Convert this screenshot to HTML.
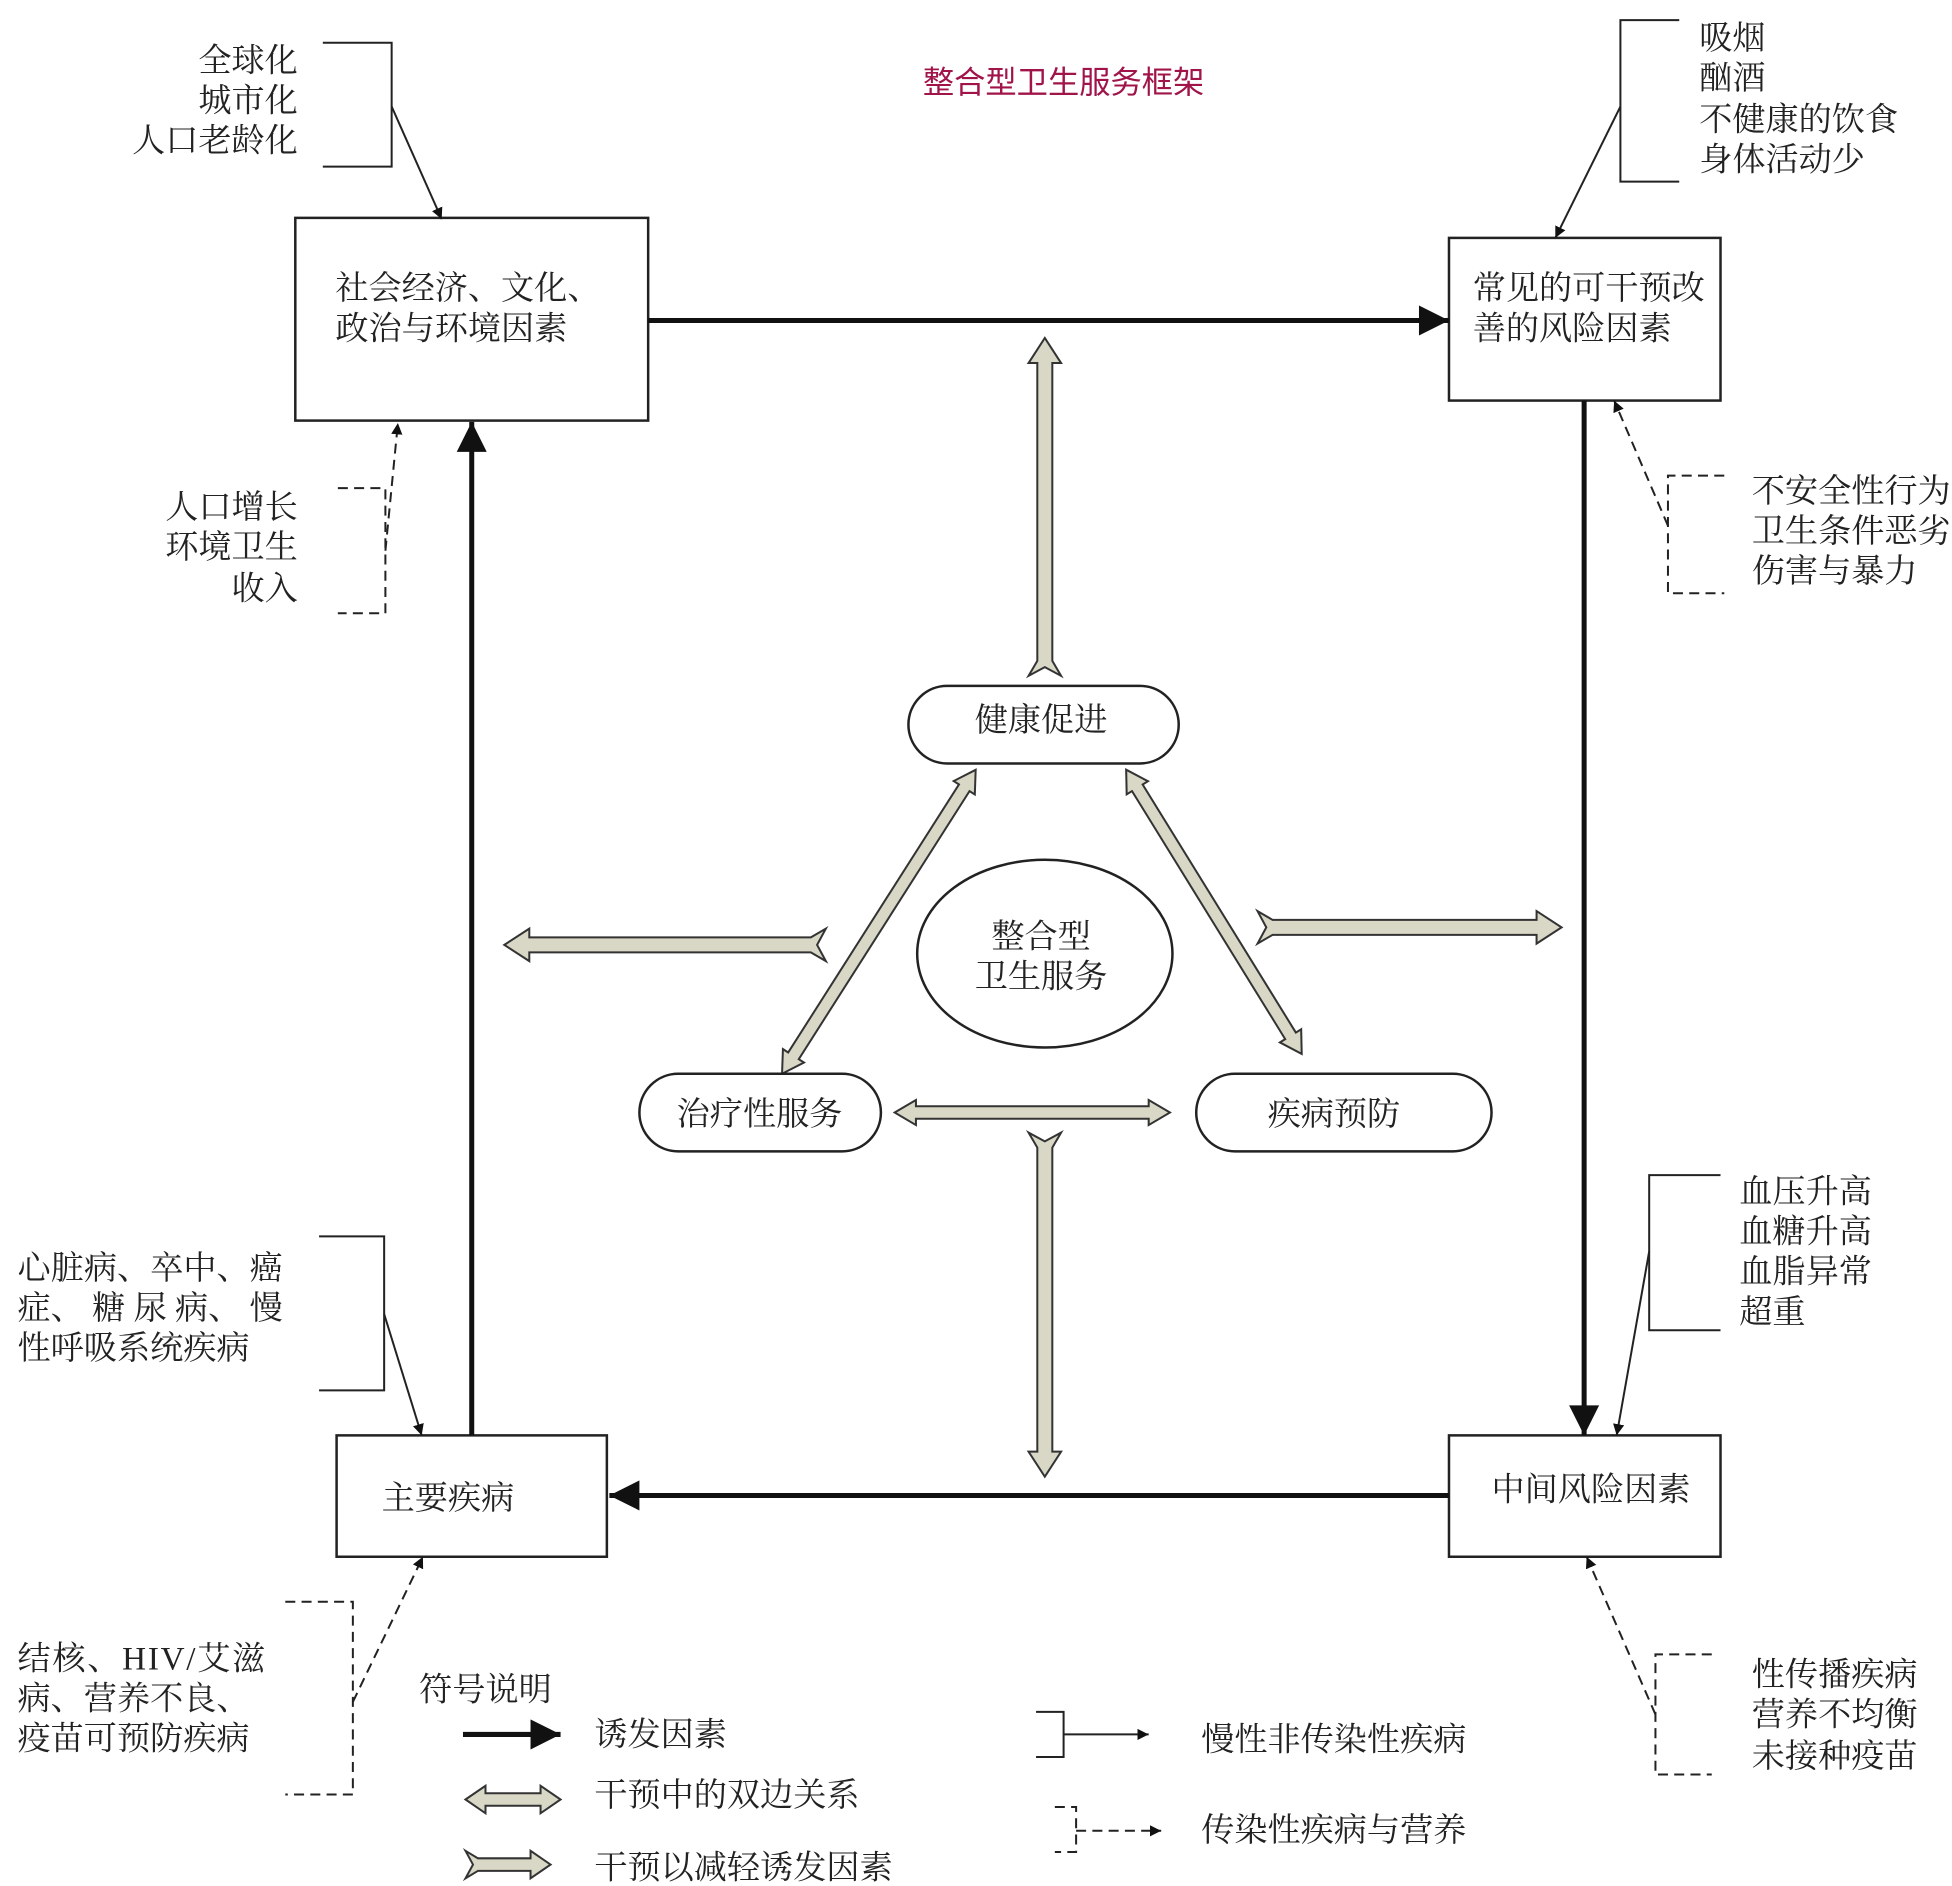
<!DOCTYPE html>
<html><head><meta charset="utf-8"><style>
html,body{margin:0;padding:0;background:#fff;}
svg{display:block;}
text{font-family:"Liberation Serif","Noto Serif CJK SC",serif;font-size:26.5px;fill:#222;}
</style></head><body>
<svg width="1952" height="1886" viewBox="0 0 1560 1507" xmlns="http://www.w3.org/2000/svg">
<defs>
<marker id="ah" viewBox="0 0 10 10" refX="10" refY="5" markerWidth="9" markerHeight="9" markerUnits="userSpaceOnUse" orient="auto"><path d="M0,0 L10,5 L0,10 Z" fill="#111"/></marker>
<marker id="big" viewBox="0 0 10 10" refX="10" refY="5" markerWidth="28" markerHeight="24" markerUnits="userSpaceOnUse" orient="auto"><path d="M0,0 L10,5 L0,10 Z" fill="#111"/></marker>
</defs>
<rect width="1560" height="1507" fill="#fff"/>
<text x="850" y="74" text-anchor="middle" style="fill:#a0144a;font-size:25px;font-family:'Liberation Sans','Noto Sans CJK SC',sans-serif">整合型卫生服务框架</text>

<g fill="#fff" stroke="#222" stroke-width="2">
<rect x="236" y="174" width="282" height="162"/>
<rect x="1158" y="190" width="217" height="130"/>
<rect x="269" y="1147" width="216" height="97"/>
<rect x="1158" y="1147" width="217" height="97"/>
</g>
<text x="268" y="239">社会经济、文化、</text>
<text x="268" y="271">政治与环境因素</text>
<text x="1177" y="239">常见的可干预改</text>
<text x="1177" y="271">善的风险因素</text>
<text x="305" y="1206">主要疾病</text>
<text x="1192" y="1199">中间风险因素</text>

<g stroke="#111" stroke-width="4" fill="none">
<line x1="518" y1="256" x2="1158" y2="256" marker-end="url(#big)"/>
<line x1="1266" y1="320" x2="1266" y2="1147" marker-end="url(#big)"/>
<line x1="1158" y1="1195" x2="487" y2="1195" marker-end="url(#big)"/>
<line x1="377" y1="1147" x2="377" y2="337" marker-end="url(#big)"/>
</g>

<g stroke="#222" stroke-width="1.6" fill="none">
<polyline points="258,34 313,34 313,133 258,133"/>
<line x1="313" y1="85" x2="353" y2="175" marker-end="url(#ah)"/>
<polyline points="1342,16 1295,16 1295,145 1342,145"/>
<line x1="1295" y1="85" x2="1243" y2="190" marker-end="url(#ah)"/>
<polyline points="1375,939 1318,939 1318,1063 1375,1063"/>
<line x1="1318" y1="1000" x2="1292" y2="1147" marker-end="url(#ah)"/>
<polyline points="255,988 307,988 307,1111 255,1111"/>
<line x1="307" y1="1050" x2="337" y2="1147" marker-end="url(#ah)"/>
<polyline points="828,1368 850,1368 850,1404 828,1404"/>
<line x1="850" y1="1386" x2="918" y2="1386" marker-end="url(#ah)"/>
</g>
<g stroke="#222" stroke-width="1.6" fill="none" stroke-dasharray="8,5">
<polyline points="270,390 308,390 308,490 270,490"/>
<line x1="308" y1="440" x2="318" y2="338" marker-end="url(#ah)"/>
<polyline points="1378,380 1333,380 1333,474 1378,474"/>
<line x1="1333" y1="420" x2="1290" y2="320" marker-end="url(#ah)"/>
<polyline points="228,1280 282,1280 282,1434 228,1434"/>
<line x1="282" y1="1360" x2="338" y2="1244" marker-end="url(#ah)"/>
<polyline points="1368,1322 1323,1322 1323,1418 1368,1418"/>
<line x1="1323" y1="1370" x2="1268" y2="1244" marker-end="url(#ah)"/>
<polyline points="843,1444 860,1444 860,1480 843,1480"/>
<line x1="860" y1="1463" x2="928" y2="1463" marker-end="url(#ah)"/>
</g>

<g text-anchor="end">
<text x="238" y="57">全球化</text><text x="238" y="89">城市化</text><text x="238" y="121">人口老龄化</text>
<text x="238" y="414">人口增长</text><text x="238" y="446">环境卫生</text><text x="238" y="479">收入</text>
</g>
<text x="1358" y="39">吸烟</text><text x="1358" y="71">酗酒</text><text x="1358" y="104">不健康的饮食</text><text x="1358" y="136">身体活动少</text>
<text x="1400" y="401">不安全性行为</text><text x="1400" y="433">卫生条件恶劣</text><text x="1400" y="465">伤害与暴力</text>
<text x="1390" y="961">血压升高</text><text x="1390" y="993">血糖升高</text><text x="1390" y="1025">血脂异常</text><text x="1390" y="1057">超重</text>
<text x="14" y="1022" textLength="212">心脏病、卒中、癌</text><text x="14" y="1054" textLength="212">症、 糖 尿 病、 慢</text><text x="14" y="1086">性呼吸系统疾病</text>
<text x="14" y="1334" textLength="198">结核、HIV/艾滋</text><text x="14" y="1366">病、营养不良、</text><text x="14" y="1398">疫苗可预防疾病</text>
<text x="1400" y="1347">性传播疾病</text><text x="1400" y="1379">营养不均衡</text><text x="1400" y="1412">未接种疫苗</text>

<g fill="#d9d7c5" stroke="#333" stroke-width="1.6">
<path transform="translate(835,540) rotate(-90)" d="M0,-13 L12,-6 L250,-6 L250,-13 L270,0 L250,13 L250,6 L12,6 L0,13 L7,0 Z"/>
<path transform="translate(835,905) rotate(90)" d="M0,-13 L12,-6 L255,-6 L255,-13 L275,0 L255,13 L255,6 L12,6 L0,13 L7,0 Z"/>
<path transform="translate(660,755) rotate(180)" d="M0,-13 L12,-6 L237,-6 L237,-13 L257,0 L237,13 L237,6 L12,6 L0,13 L7,0 Z"/>
<path transform="translate(1005,741)" d="M0,-13 L12,-6 L223,-6 L223,-13 L243,0 L223,13 L223,6 L12,6 L0,13 L7,0 Z"/>
<path transform="translate(625,858) rotate(-57.5)" d="M0,0 L17,-10 L17,-5 L271,-5 L271,-10 L288,0 L271,10 L271,5 L17,5 L17,10 Z"/>
<path transform="translate(900,615) rotate(58.3)" d="M0,0 L17,-10 L17,-5 L250,-5 L250,-10 L267,0 L250,10 L250,5 L17,5 L17,10 Z"/>
<path transform="translate(715,889)" d="M0,0 L17,-10 L17,-5 L203,-5 L203,-10 L220,0 L203,10 L203,5 L17,5 L17,10 Z"/>
<path transform="translate(372,1438)" d="M0,0 L16,-11 L16,-5 L60,-5 L60,-11 L76,0 L60,11 L60,5 L16,5 L16,11 Z"/>
<path transform="translate(372,1490)" d="M0,-11 L10,-5 L52,-5 L52,-11 L68,0 L52,11 L52,5 L10,5 L0,11 L6,0 Z"/>
</g>

<g fill="#fff" stroke="#222" stroke-width="2">
<rect x="726" y="548" width="216" height="62" rx="31"/>
<rect x="511" y="858" width="193" height="62" rx="31"/>
<rect x="956" y="858" width="236" height="62" rx="31"/>
<ellipse cx="835" cy="762" rx="102" ry="75"/>
</g>
<g text-anchor="middle">
<text x="832" y="584">健康促进</text>
<text x="607" y="899">治疗性服务</text>
<text x="1066" y="899">疾病预防</text>
<text x="832" y="757">整合型</text>
<text x="832" y="789">卫生服务</text>
</g>

<text x="335" y="1359">符号说明</text>
<line x1="370" y1="1386" x2="448" y2="1386" stroke="#111" stroke-width="4" marker-end="url(#big)"/>
<text x="475" y="1395">诱发因素</text>
<text x="475" y="1443">干预中的双边关系</text>
<text x="475" y="1501">干预以减轻诱发因素</text>
<text x="960" y="1399">慢性非传染性疾病</text>
<text x="960" y="1471">传染性疾病与营养</text>
</svg>
</body></html>
